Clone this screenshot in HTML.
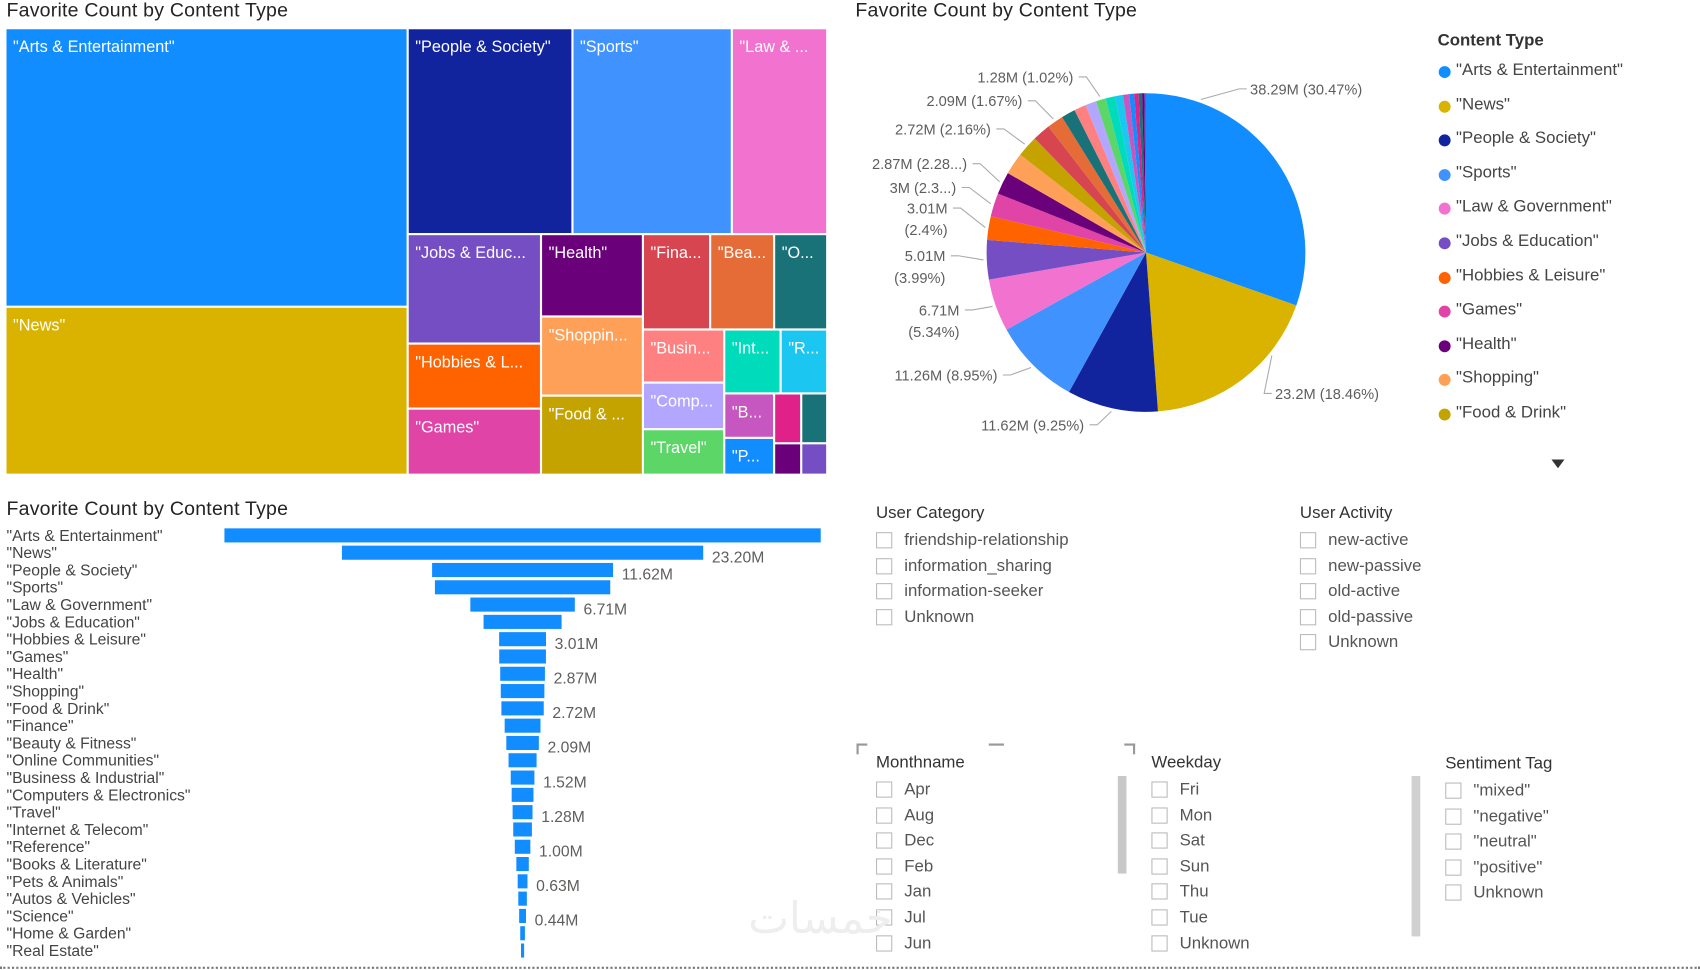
<!DOCTYPE html>
<html><head><meta charset="utf-8"><style>
html,body{margin:0;padding:0;background:#fff;}
body{width:1700px;height:970px;overflow:hidden;position:relative;font-family:"Liberation Sans",sans-serif;}
#wrap{position:absolute;left:0;top:0;width:1568px;height:895px;transform:scale(1.08418,1.08380);transform-origin:0 0;}
.title{position:absolute;font-size:18px;color:#252423;letter-spacing:0.2px;}
.tm{position:absolute;color:#fff;font-size:15px;box-sizing:border-box;padding:8px 0 0 6px;white-space:nowrap;overflow:hidden;}
.sl-h{position:absolute;font-size:15.5px;color:#333;font-weight:bold;}
.sl-i{position:absolute;font-size:15.5px;color:#555;}
.sl-i::before{content:"";position:absolute;left:-26px;top:1px;width:15px;height:15px;border:1px solid #bbb;box-sizing:border-box;}
.leg{position:absolute;font-size:15.5px;color:#444;}
.leg i{position:absolute;left:-16px;top:5px;width:11px;height:11px;border-radius:50%;}
</style></head><body>
<div id="wrap">
<div class="title" style="left:6px;top:-1px">Favorite Count by Content Type</div>
<div id="treemap"></div>

<div class="title" style="left:789px;top:-1px">Favorite Count by Content Type</div>
<svg id="pie" style="position:absolute;left:780px;top:20px" width="540" height="400"></svg>
<div class="sl-h" style="left:1326px;top:29px">Content Type</div>
<div id="legend"></div>
<div style="position:absolute;left:1431px;top:424px;width:0;height:0;border-left:6px solid transparent;border-right:6px solid transparent;border-top:8px solid #333"></div>

<div class="title" style="left:6px;top:459px">Favorite Count by Content Type</div>
<svg id="bars" style="position:absolute;left:0;top:480px" width="780" height="410"></svg>

<div id="slicers"></div>
<div style="position:absolute;left:792px;top:688px;width:253px;height:202px;">
 <div style="position:absolute;left:-2px;top:-2px;width:8px;height:8px;border-left:2px solid #999;border-top:2px solid #999"></div>
 <div style="position:absolute;right:-2px;top:-2px;width:8px;height:8px;border-right:2px solid #999;border-top:2px solid #999"></div>
 <div style="position:absolute;left:120px;top:-2px;width:14px;border-top:2px solid #999"></div>
</div>
<div style="position:absolute;left:1031px;top:716px;width:8px;height:90px;background:#c8c8c8"></div>
<div style="position:absolute;left:1302px;top:716px;width:8px;height:148px;background:#d0d0d0"></div>
<div style="position:absolute;left:690px;top:825px;font-size:40px;color:#eee;font-family:'Liberation Sans','Noto Sans CJK SC',sans-serif">خمسات</div>
<div style="position:absolute;left:0;top:892px;width:1568px;border-top:2px dotted #777"></div>
</div>
<script>
const cats=["\"Arts & Entertainment\"","\"News\"","\"People & Society\"","\"Sports\"","\"Law & Government\"","\"Jobs & Education\"","\"Hobbies & Leisure\"","\"Games\"","\"Health\"","\"Shopping\"","\"Food & Drink\"","\"Finance\"","\"Beauty & Fitness\"","\"Online Communities\"","\"Business & Industrial\"","\"Computers & Electronics\"","\"Travel\"","\"Internet & Telecom\"","\"Reference\"","\"Books & Literature\"","\"Pets & Animals\"","\"Autos & Vehicles\"","\"Science\"","\"Home & Garden\"","\"Real Estate\""];
const values=[38.29,23.20,11.62,11.26,6.71,5.01,3.01,3.00,2.87,2.80,2.72,2.30,2.09,1.80,1.52,1.40,1.28,1.20,1.00,0.80,0.63,0.55,0.44,0.30,0.20];
const colors=["#118DFF","#D9B300","#12239E","#4092FF","#F272D0","#744EC2","#FF6300","#E044A7","#6B007B","#FFA058","#C4A200","#D64550","#E66C37","#197278","#FF8080","#B3A6FF","#5BD667","#00DBBC","#1BC7F0","#C757C0","#118DFF","#E0218A","#197278","#6B007B","#744EC2"];
const barLabelIdx=[1,2,4,6,8,10,12,14,16,18,20,22];
const NS="http://www.w3.org/2000/svg";
function sv(tag,attrs,parent){const e=document.createElementNS(NS,tag);for(const k in attrs)e.setAttribute(k,attrs[k]);parent.appendChild(e);return e;}

const tmRects=[[6,27,369,255],[6,284,369,153],[377,27,150,188],[529,27,145,188],[676,27,86,188],[377,217,121,99],[377,318,121,58],[377,378,121,59],[500,217,92,74],[500,293,92,71],[500,366,92,71],[594,217,60,86],[656,217,57,86],[715,217,47,86],[594,305,73,47],[594,354,73,41],[594,397,73,40],[669,305,50,57],[721,305,41,57],[669,364,44,39],[715,364,23,44],[740,364,22,44],[669,405,44,32],[715,410,23,27],[740,410,22,27]];
const tmText=["\"Arts & Entertainment\"","\"News\"","\"People & Society\"","\"Sports\"","\"Law & ...","\"Jobs & Educ...","\"Hobbies & L...","\"Games\"","\"Health\"","\"Shoppin...","\"Food & ...","\"Fina...","\"Bea...","\"O...","\"Busin...","\"Comp...","\"Travel\"","\"Int...","\"R...","\"B...","","","\"P...","",""];
const tmOrder=[0,1,2,3,4,5,6,7,8,9,10,11,12,13,14,15,16,17,18,19,21,22,20,23,24];
const tm=document.getElementById('treemap');
tmRects.forEach((r,i)=>{const d=document.createElement('div');d.className='tm';
d.style.cssText+=`left:${r[0]}px;top:${r[1]}px;width:${r[2]}px;height:${r[3]}px;background:${colors[tmOrder[i]]}`;
d.textContent=tmText[i];


tm.appendChild(d);});

const pie=document.getElementById('pie');
const cx=1057-780,cy=233-20,R=147;
const total=values.reduce((a,b)=>a+b,0);
let acc=0;const starts=[],ends=[];
values.forEach((v,i)=>{const a0=acc/total*2*Math.PI,a1=(acc+v)/total*2*Math.PI;acc+=v;starts.push(a0);ends.push(a1);
const x0=cx+R*Math.sin(a0),y0=cy-R*Math.cos(a0),x1=cx+R*Math.sin(a1),y1=cy-R*Math.cos(a1);
const p=sv('path',{d:`M${cx},${cy}L${x0},${y0}A${R},${R} 0 ${a1-a0>Math.PI?1:0} 1 ${x1},${y1}Z`,fill:colors[i]},pie);

});
const pieLabIdx=[0,1,2,3,4,5,6,7,8,10,12,16];
const pieLabText=[["38.29M (30.47%)"],["23.2M (18.46%)"],["11.62M (9.25%)"],["11.26M (8.95%)"],["6.71M","(5.34%)"],["5.01M","(3.99%)"],["3.01M","(2.4%)"],["3M (2.3...)"],["2.87M (2.28...)"],["2.72M (2.16%)"],["2.09M (1.67%)"],["1.28M (1.02%)"]];
const pieLabPos=[[1153,87,'start'],[1176,368,'start'],[1000,397,'end'],[920,351,'end'],[885,291,'end'],[872,241,'end'],[874,197,'end'],[882,178,'end'],[892,156,'end'],[914,124,'end'],[943,98,'end'],[990,76,'end']];
const leadFrac=[0.18,0.3,0.5,0.5,0.5,0.5,0.5,0.5,0.5,0.5,0.5,0.5];
pieLabIdx.forEach((idx,k)=>{const [lx,ly,anc]=pieLabPos[k];const x=lx-780,y=ly-20;
const m=starts[idx]+(ends[idx]-starts[idx])*leadFrac[k];const ex=cx+(R+3)*Math.sin(m),ey=cy-(R+3)*Math.cos(m);
const bx=anc==='start'?x-10:x+12,b2=anc==='start'?x-3:x+5;
sv('polyline',{points:`${ex},${ey} ${bx},${y-5} ${b2},${y-5}`,fill:'none',stroke:'#aaa','stroke-width':1},pie);
pieLabText[k].forEach((t,j)=>{const tx=sv('text',{x:x,y:y+j*20,'text-anchor':anc,'font-size':13.5,fill:'#605e5c','font-family':'Liberation Sans, sans-serif'},pie);tx.textContent=t;

});});

const leg=document.getElementById('legend');
for(let i=0;i<11;i++){const d=document.createElement('div');d.className='leg';d.style.left='1343px';d.style.top=(56+i*31.6)+'px';
d.innerHTML=`<i style="background:${colors[i]}"></i>${cats[i].replace(/&/g,'&amp;')}`;


leg.appendChild(d);}

const bars=document.getElementById('bars');
const center=482,k=550/38.29,y0=494-480,pitch=15.96,bh=13;
const xs=v=>v*k;const ys=i=>y0+i*pitch;
cats.forEach((c,i)=>{const t=sv('text',{x:6,y:ys(i)+5,'font-size':14.5,fill:'#444','font-family':'Liberation Sans, sans-serif'},bars);t.textContent=c;


const w=xs(values[i]);const r=sv('rect',{x:center-w/2,y:ys(i)-bh/2,width:Math.max(w,2),height:bh,fill:'#118DFF'},bars);

});
barLabelIdx.forEach(i=>{const w=xs(values[i]);const t=sv('text',{x:center+w/2+8,y:ys(i)+9,'font-size':14.5,fill:'#605e5c','font-family':'Liberation Sans, sans-serif'},bars);t.textContent=values[i].toFixed(2)+'M';

});

const slicers=[["User Category",808,465,["friendship-relationship","information_sharing","information-seeker","Unknown"]],["User Activity",1199,465,["new-active","new-passive","old-active","old-passive","Unknown"]],["Monthname",808,695,["Apr","Aug","Dec","Feb","Jan","Jul","Jun"]],["Weekday",1062,695,["Fri","Mon","Sat","Sun","Thu","Tue","Unknown"]],["Sentiment Tag",1333,696,["\"mixed\"","\"negative\"","\"neutral\"","\"positive\"","Unknown"]]];
const sl=document.getElementById('slicers');
slicers.forEach(([h,x,y,items])=>{const d=document.createElement('div');d.className='sl-h';d.style.left=x+'px';d.style.top=y+'px';d.style.fontWeight='normal';d.style.color='#333';d.textContent=h;


sl.appendChild(d);
items.forEach((t,j)=>{const e=document.createElement('div');e.className='sl-i';e.style.left=(x+26)+'px';e.style.top=(y+25+j*23.6)+'px';e.textContent=t;


sl.appendChild(e);});});
</script>
</body></html>
